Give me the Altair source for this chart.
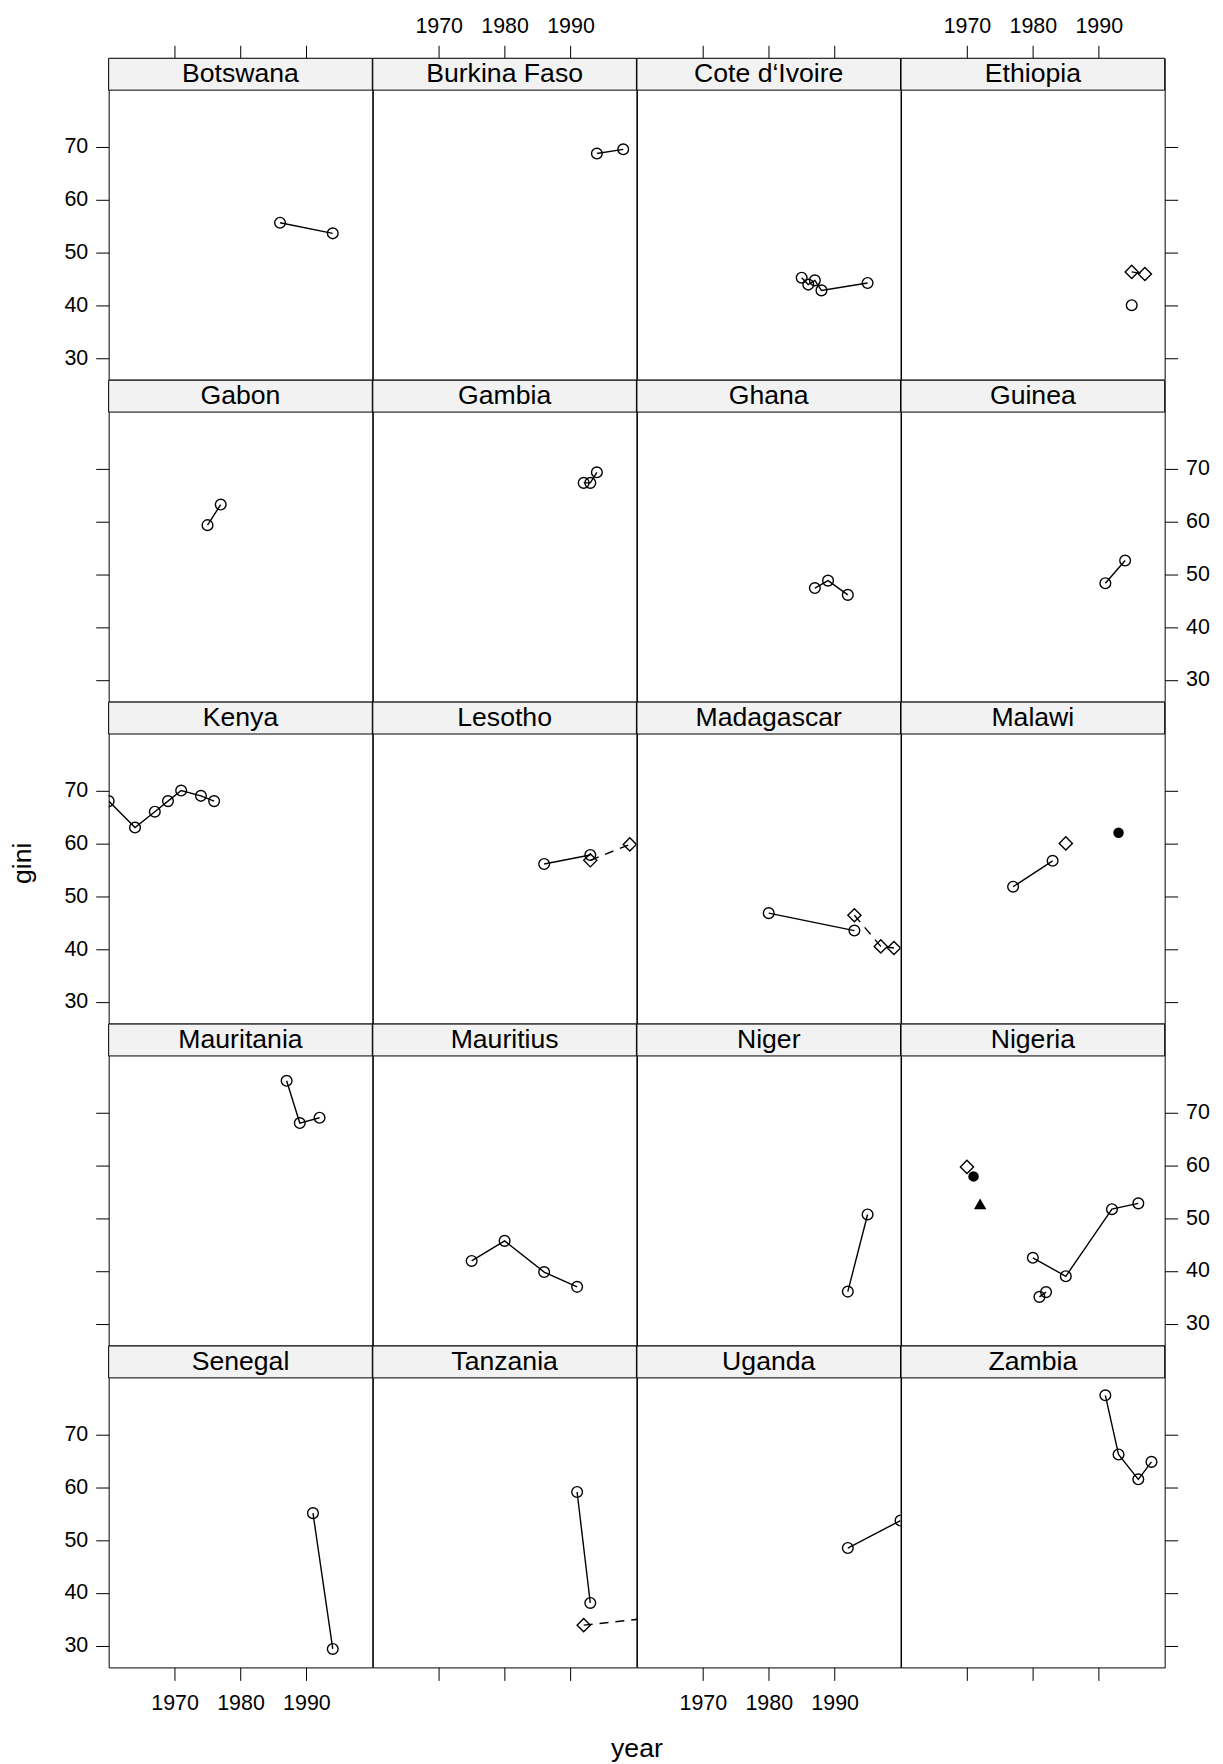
import altair as alt
import pandas as pd

# ---------------- data ----------------
PANELS = ["Botswana", "Burkina Faso", "Cote d\u2018Ivoire", "Ethiopia",
          "Gabon", "Gambia", "Ghana", "Guinea",
          "Kenya", "Lesotho", "Madagascar", "Malawi",
          "Mauritania", "Mauritius", "Niger", "Nigeria",
          "Senegal", "Tanzania", "Uganda", "Zambia"]

X_TICKS = [1970, 1980, 1990]
Y_TICKS = [30, 40, 50, 60, 70]
X_DOMAIN = [1960, 2000]
Y_DOMAIN = [25.9, 80.7]

rec_country, rec_group, rec_symbol, rec_lty, rec_year, rec_gini = [], [], [], [], [], []


def add(country, group, symbol, lty, years, ginis):
    for yr, g in zip(years, ginis):
        rec_country.append(country)
        rec_group.append(group)
        rec_symbol.append(symbol)
        rec_lty.append(lty)
        rec_year.append(yr)
        rec_gini.append(g)


add("Botswana", "a", "open_circle", "solid", [1986, 1994], [55.6, 53.6])
add("Burkina Faso", "a", "open_circle", "solid", [1994, 1998], [68.7, 69.5])
add("Cote d\u2018Ivoire", "a", "open_circle", "solid",
    [1985, 1986, 1987, 1988, 1995], [45.2, 43.9, 44.7, 42.8, 44.2])
add("Ethiopia", "a", "open_circle", "solid", [1995], [40.0])
add("Ethiopia", "b", "open_diamond", "dashed", [1995, 1997], [46.3, 45.9])
add("Gabon", "a", "open_circle", "solid", [1975, 1977], [59.3, 63.2])
add("Gambia", "a", "open_circle", "solid", [1992, 1993, 1994], [67.3, 67.3, 69.3])
add("Ghana", "a", "open_circle", "solid", [1987, 1989, 1992], [47.4, 48.8, 46.1])
add("Guinea", "a", "open_circle", "solid", [1991, 1994], [48.3, 52.6])
add("Kenya", "a", "open_circle", "solid",
    [1960, 1964, 1967, 1969, 1971, 1974, 1976], [68.0, 63.0, 66.0, 68.0, 70.0, 69.0, 68.0])
add("Lesotho", "a", "open_circle", "solid", [1986, 1993], [56.1, 57.8])
add("Lesotho", "b", "open_diamond", "dashed", [1993, 1999], [56.8, 59.8])
add("Madagascar", "a", "open_circle", "solid", [1980, 1993], [46.8, 43.5])
add("Madagascar", "b", "open_diamond", "dashed", [1993, 1997, 1999], [46.4, 40.5, 40.2])
add("Malawi", "a", "open_circle", "solid", [1977, 1983], [51.8, 56.7])
add("Malawi", "b", "open_diamond", "dashed", [1985], [60.0])
add("Malawi", "c", "filled_circle", "solid", [1993], [62.0])
add("Mauritania", "a", "open_circle", "solid", [1987, 1989, 1992], [76.0, 68.0, 69.0])
add("Mauritius", "a", "open_circle", "solid", [1975, 1980, 1986, 1991], [41.9, 45.7, 39.8, 37.0])
add("Niger", "a", "open_circle", "solid", [1992, 1995], [36.1, 50.7])
add("Nigeria", "a", "open_circle", "solid", [1980, 1985, 1992, 1996], [42.5, 39.0, 51.7, 52.8])
add("Nigeria", "a2", "open_circle", "solid", [1981, 1982], [35.1, 36.0])
add("Nigeria", "b", "open_diamond", "dashed", [1970], [59.7])
add("Nigeria", "c", "filled_circle", "solid", [1971], [57.9])
add("Nigeria", "d", "filled_triangle", "solid", [1972], [52.7])
add("Senegal", "a", "open_circle", "solid", [1991, 1994], [55.1, 29.4])
add("Tanzania", "a", "open_circle", "solid", [1991, 1993], [59.1, 38.1])
add("Tanzania", "b", "open_diamond", "dashed", [1992, 2001], [33.9, 35.1])
add("Uganda", "a", "open_circle", "solid", [1992, 2000], [48.5, 53.7])
add("Zambia", "a", "open_circle", "solid", [1991, 1993, 1996, 1998], [77.4, 66.2, 61.5, 64.8])

df = pd.DataFrame(dict(country=rec_country, grp=rec_group, symbol=rec_symbol,
                       lty=rec_lty, year=rec_year, gini=rec_gini))
strip_df = pd.DataFrame({"country": PANELS})

# ---------------- layout / style ----------------
W, H, STRIP = 264.5, 322.5, 32
FONT = "Liberation Sans"
LW = 1.4
LABEL_FS = 21.5
TEXT_FS = 26.7

xs = alt.Scale(domain=X_DOMAIN, nice=False, zero=False)
ys = alt.Scale(domain=Y_DOMAIN, range=[H, STRIP], nice=False, zero=False)


def x_axis(r, c):
    if r == 0:
        return alt.Axis(orient="top", values=X_TICKS, format="d",
                        labels=c in (1, 3), title=None)
    if r == 4:
        if c == 1:
            return alt.Axis(orient="bottom", values=X_TICKS, format="d", labels=False,
                            title="year", titleX=W, titleY=81, titleAlign="center",
                            titleBaseline="middle")
        return alt.Axis(orient="bottom", values=X_TICKS, format="d", labelPadding=12.5,
                        labels=c in (0, 2), title=None)
    return None


def y_axis(r, c):
    if c == 0:
        if r == 2:
            return alt.Axis(orient="left", values=Y_TICKS, format="d", labels=True,
                            title="gini", titleX=-86.5, titleY=161.25, titleAngle=270,
                            titleAlign="center", titleBaseline="middle")
        return alt.Axis(orient="left", values=Y_TICKS, format="d",
                        labels=r in (0, 2, 4), title=None)
    if c == 3:
        return alt.Axis(orient="right", values=Y_TICKS, format="d",
                        labels=r in (1, 3), title=None)
    return None


def cell(i, name):
    r, c = divmod(i, 4)
    pred = alt.FieldEqualPredicate(field="country", equal=name)
    base = alt.Chart(df).transform_filter(pred).encode(
        x=alt.X("year:Q", scale=xs, axis=x_axis(r, c)),
        y=alt.Y("gini:Q", scale=ys, axis=y_axis(r, c)),
    )

    def sel(field, val):
        return base.transform_filter(alt.FieldEqualPredicate(field=field, equal=val))

    solid = sel("lty", "solid").mark_line(color="black", strokeWidth=LW, clip=True).encode(
        detail="grp:N")
    dashed = sel("lty", "dashed").mark_line(color="black", strokeWidth=LW, strokeDash=[9, 7],
                                            clip=True).encode(detail="grp:N")
    oc = sel("symbol", "open_circle").mark_point(shape="circle", size=115, filled=False,
                                                 color="black", strokeWidth=LW, opacity=1,
                                                 clip=True)
    od = sel("symbol", "open_diamond").mark_point(shape="diamond", size=175, filled=False,
                                                  color="black", strokeWidth=LW, opacity=1,
                                                  clip=True)
    fc = sel("symbol", "filled_circle").mark_point(shape="circle", size=110, filled=True,
                                                   color="black", opacity=1, clip=True)
    ft = sel("symbol", "filled_triangle").mark_point(shape="triangle-up", size=155, filled=True,
                                                     color="black", opacity=1, clip=True)
    sb = alt.Chart(strip_df).transform_filter(pred).mark_rect(
        fill="#F2F2F2", stroke="black", strokeWidth=1).encode(
        x=alt.value(0), x2=alt.value(W), y=alt.value(0), y2=alt.value(STRIP))
    st = alt.Chart(strip_df).transform_filter(pred).mark_text(
        font=FONT, fontSize=TEXT_FS, color="black", align="center", baseline="middle").encode(
        x=alt.value(W / 2), y=alt.value(STRIP / 2), text="country:N")
    return alt.layer(sb, st, solid, dashed, oc, od, fc, ft).properties(width=W, height=H)


cells = [cell(i, n) for i, n in enumerate(PANELS)]

chart = alt.concat(*cells, columns=4, spacing=0, bounds="flush").properties(
    padding={"left": 1, "top": 3.5, "right": 5, "bottom": 5},
    background="white",
).configure_view(
    stroke="black", strokeWidth=1
).configure_axis(
    domain=False, grid=False, ticks=True, tickColor="black", tickWidth=1, tickSize=13,
    labelFont=FONT, labelFontSize=LABEL_FS, labelColor="black", labelPadding=8,
    labelFlush=False, labelOverlap=False, labelBound=False,
    titleFont=FONT, titleFontSize=TEXT_FS, titleColor="black", titleFontWeight="normal",
)

chart.save("out.html", embed_options={"renderer": "svg", "actions": False})
